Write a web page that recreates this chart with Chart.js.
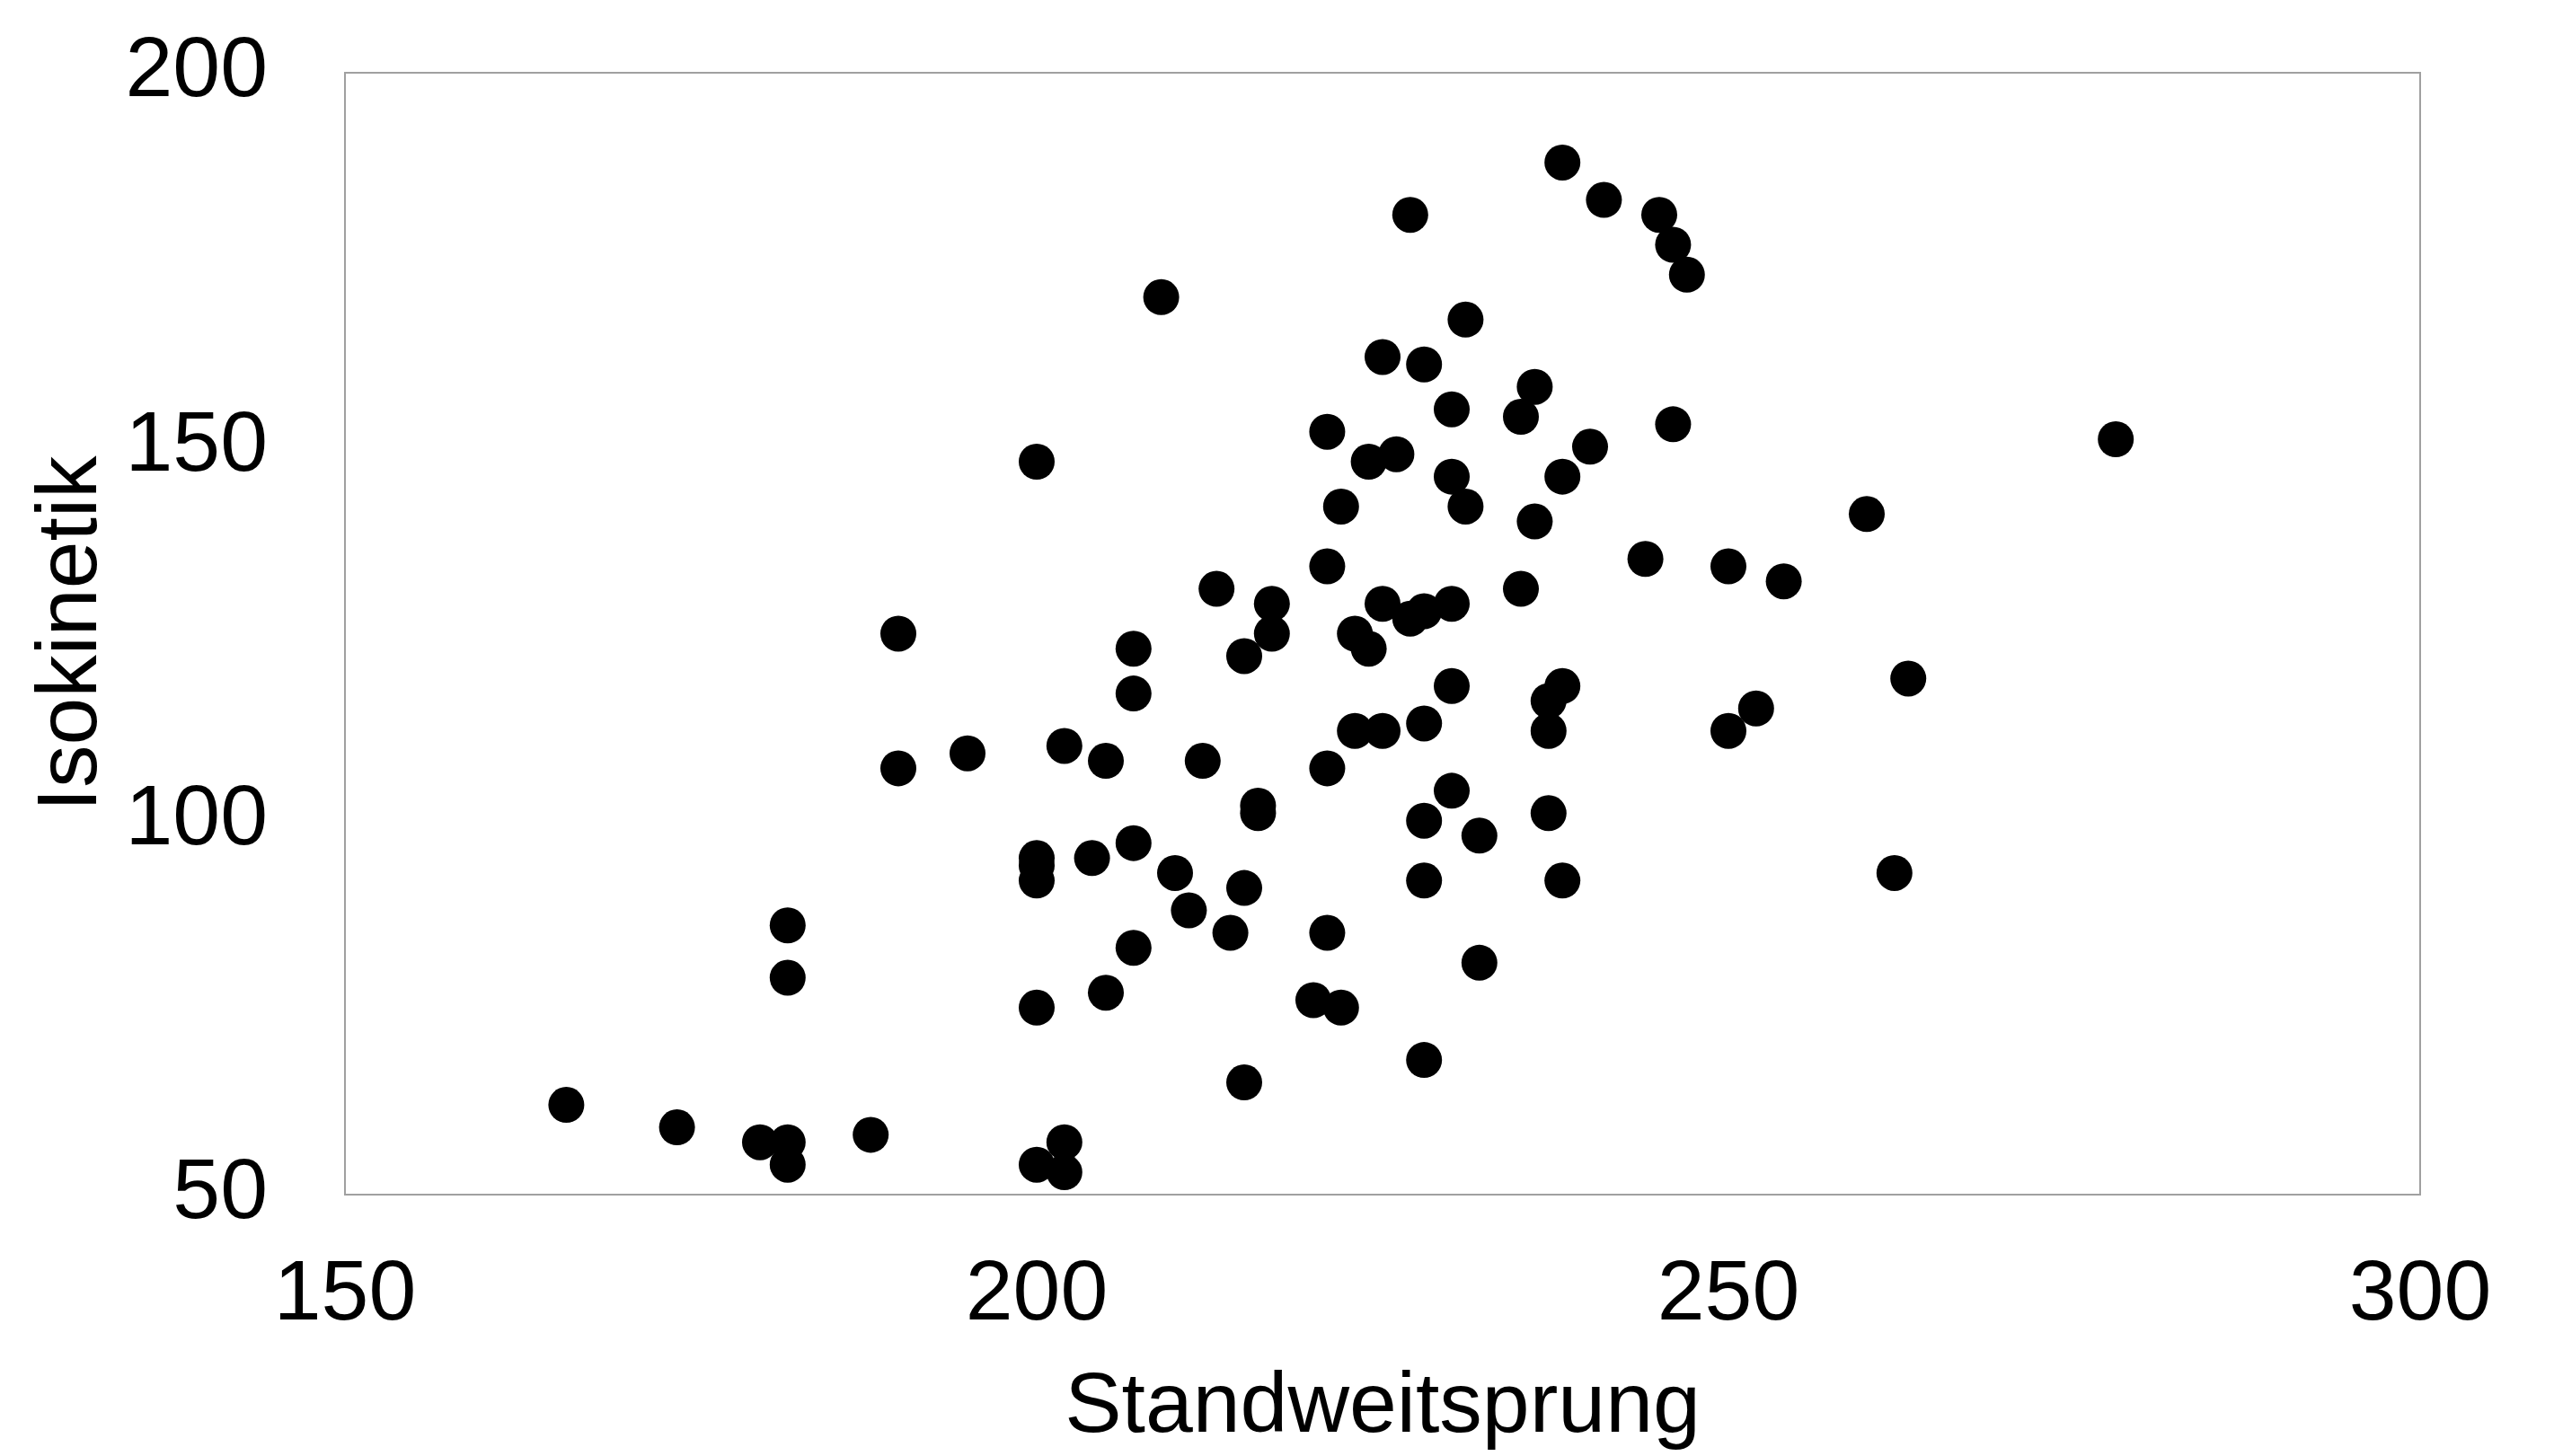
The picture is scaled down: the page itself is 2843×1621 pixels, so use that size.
<!DOCTYPE html>
<html>
<head>
<meta charset="utf-8">
<script src="https://cdn.jsdelivr.net/npm/chart.js@4/dist/chart.umd.min.js"></script>
<style>
  html, body { margin: 0; padding: 0; background: #ffffff; }
  canvas { display: block; }
</style>
</head>
<body>
<canvas id="c" width="2843" height="1621"></canvas>
<script>
// Data
const standweitsprung = [
  166, 174, 180, 182, 182, 188, 182, 182, 190, 190,
  195, 200, 200, 200, 200, 200, 200, 202, 202, 202,
  204, 205, 205, 207, 207, 207, 207, 209, 210, 211,
  212, 213, 214, 215, 215, 215, 216, 216, 217, 217,
  220, 221, 221, 221, 221, 222, 222, 223, 223, 224,
  224, 225, 225, 225, 226, 227, 227, 228, 228, 228,
  228, 228, 228, 230, 230, 230, 230, 230, 231, 231,
  232, 232, 235, 235, 236, 236, 237, 237, 237, 238,
  238, 238, 238, 240, 241, 244, 245, 246, 246, 247,
  250, 250, 252, 254, 260, 262, 263, 278
];
const isokinetik = [
  62, 59, 57, 57, 54, 58, 86, 79, 125, 107,
  109, 148, 95, 94, 92, 75, 54, 57, 53, 110,
  95, 108, 77, 123, 117, 97, 83, 170, 93, 88,
  108, 131, 85, 122, 91, 65, 102, 101, 129, 125,
  76, 152, 134, 107, 85, 142, 75, 125, 112, 148,
  123, 162, 129, 112, 149, 181, 127, 161, 128, 113,
  100, 92, 68, 155, 146, 129, 118, 104, 167, 142,
  98, 81, 154, 131, 158, 140, 116, 112, 101, 188,
  146, 118, 92, 150, 183, 135, 181, 177, 153, 173,
  134, 112, 115, 132, 141, 93, 119, 151
];
const xTicks = [150, 200, 250, 300];
const yTicks = [50, 100, 150, 200];
const xTitle = 'Standweitsprung';
const yTitle = 'Isokinetik';

const points = standweitsprung.map((x, i) => ({ x: x, y: isokinetik[i] }));

const FONT = { family: '"Liberation Sans", Arial, sans-serif', size: 95 };

const framePlugin = {
  id: 'frame',
  beforeDatasetsDraw(chart) {
    const a = chart.chartArea;
    const ctx = chart.ctx;
    ctx.save();
    ctx.strokeStyle = '#a0a0a0';
    ctx.lineWidth = 2;
    ctx.strokeRect(a.left, a.top, a.right - a.left, a.bottom - a.top);
    ctx.restore();
  }
};

new Chart(document.getElementById('c'), {
  type: 'scatter',
  data: {
    datasets: [{
      data: points,
      backgroundColor: '#000000',
      borderWidth: 0,
      pointRadius: 20,
      pointHoverRadius: 20
    }]
  },
  options: {
    responsive: false,
    animation: false,
    devicePixelRatio: 1,
    layout: { padding: { top: 81, right: 149, left: 0, bottom: 0 } },
    plugins: {
      legend: { display: false },
      tooltip: { enabled: false }
    },
    scales: {
      x: {
        type: 'linear',
        min: xTicks[0],
        max: xTicks[xTicks.length - 1],
        afterBuildTicks(scale) { scale.ticks = xTicks.map(v => ({ value: v })); },
        afterFit(scale) {
          scale.height = 291;
          scale.paddingLeft = 0;
          scale.paddingRight = 0;
        },
        grid: { display: false, drawTicks: false },
        border: { display: false },
        ticks: { font: FONT, color: '#000000', padding: 56, maxRotation: 0 },
        title: { display: true, text: xTitle, font: FONT, color: '#000000', padding: { top: 0, bottom: -4 } }
      },
      y: {
        type: 'linear',
        min: yTicks[0],
        max: yTicks[yTicks.length - 1],
        afterBuildTicks(scale) { scale.ticks = yTicks.map(v => ({ value: v })); },
        afterFit(scale) {
          scale.width = 384;
          scale.paddingTop = 0;
          scale.paddingBottom = 0;
        },
        grid: { display: false, drawTicks: false },
        border: { display: false },
        ticks: { font: FONT, color: '#000000', padding: 86 },
        title: { display: true, text: yTitle, font: FONT, color: '#000000', padding: { top: 24, bottom: 0 } }
      }
    }
  },
  plugins: [framePlugin]
});
</script>
</body>
</html>
